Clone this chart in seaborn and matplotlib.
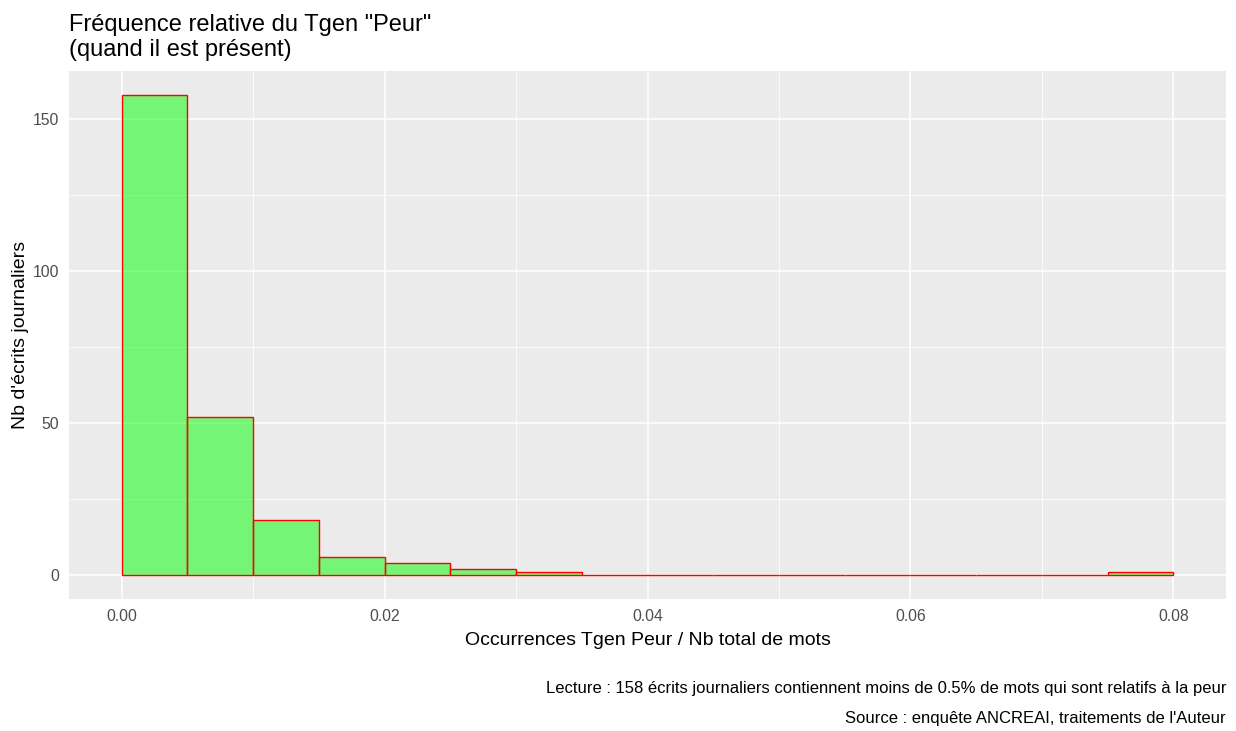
import numpy as np
import pandas as pd
import matplotlib
matplotlib.use("Agg")
import matplotlib.pyplot as plt
import seaborn as sns

# Data: histogram bins (width 0.005) and counts
bin_edges = [0.000, 0.005, 0.010, 0.015, 0.020, 0.025, 0.030, 0.035, 0.040,
             0.045, 0.050, 0.055, 0.060, 0.065, 0.070, 0.075, 0.080]
counts = [158, 52, 18, 6, 4, 2, 1, 0, 0, 0, 0, 0, 0, 0, 0, 1]
x_ticks = [0.00, 0.02, 0.04, 0.06, 0.08]
x_tick_labels = ["0.00", "0.02", "0.04", "0.06", "0.08"]
y_ticks = [0, 50, 100, 150]

title = "Fréquence relative du Tgen \"Peur\"\n(quand il est présent)"
xlabel = "Occurrences Tgen Peur / Nb total de mots"
ylabel = "Nb d'écrits journaliers"
caption1 = "Lecture : 158 écrits journaliers contiennent moins de 0.5% de mots qui sont relatifs à la peur"
caption2 = "Source : enquête ANCREAI, traitements de l'Auteur"

centers = [(a + b) / 2 for a, b in zip(bin_edges[:-1], bin_edges[1:])]
df = pd.DataFrame({"x": centers, "n": counts})

sns.set_theme(style="darkgrid")
plt.rcParams["font.family"] = ["Liberation Sans", "DejaVu Sans"]

W, H = 1236, 731
fig = plt.figure(figsize=(W / 100, H / 100), dpi=100)
fig.patch.set_facecolor("white")
L, R, T, B = 69, 1226, 71, 599
ax = fig.add_axes([L / W, 1 - B / H, (R - L) / W, (B - T) / H])
ax.set_facecolor("#EBEBEB")

sns.histplot(data=df, x="x", weights="n", bins=bin_edges, ax=ax,
             color="#00FF00", alpha=0.5, edgecolor="red", linewidth=1.0,
             zorder=3)
for p in ax.patches:
    p.set_facecolor((0, 1, 0, 0.5))
    p.set_edgecolor("red")

ax.set_xlim(-0.004, 0.084)
ax.set_ylim(-7.9, 165.9)
ax.set_xticks(x_ticks)
ax.set_xticklabels(x_tick_labels)
ax.set_yticks(y_ticks)
ax.set_xticks([0.01, 0.03, 0.05, 0.07], minor=True)
ax.set_yticks([25, 75, 125], minor=True)
ax.grid(which="major", color="white", linewidth=1.1, zorder=0)
ax.grid(which="minor", color="white", linewidth=0.55, zorder=0)
ax.set_axisbelow(True)
for s in ax.spines.values():
    s.set_visible(False)
ax.tick_params(which="major", length=3.5, width=0.9, color="#333333",
               labelcolor="#4D4D4D", labelsize=11.3, pad=3.5)
ax.tick_params(which="minor", length=0)

ax.set_xlabel(xlabel, fontsize=14, color="black", labelpad=6)
ax.set_ylabel(ylabel, fontsize=14, color="black", labelpad=3)

fig.text(L / W, 1 - 14 / H, title, ha="left", va="top", fontsize=17,
         color="black", linespacing=1.2)
fig.text(R / W, 1 - 688 / H, caption1, ha="right", va="center", fontsize=12,
         color="black")
fig.text(R / W, 1 - 719 / H, caption2, ha="right", va="center", fontsize=12,
         color="black")

fig.savefig("out.png", dpi=100)
